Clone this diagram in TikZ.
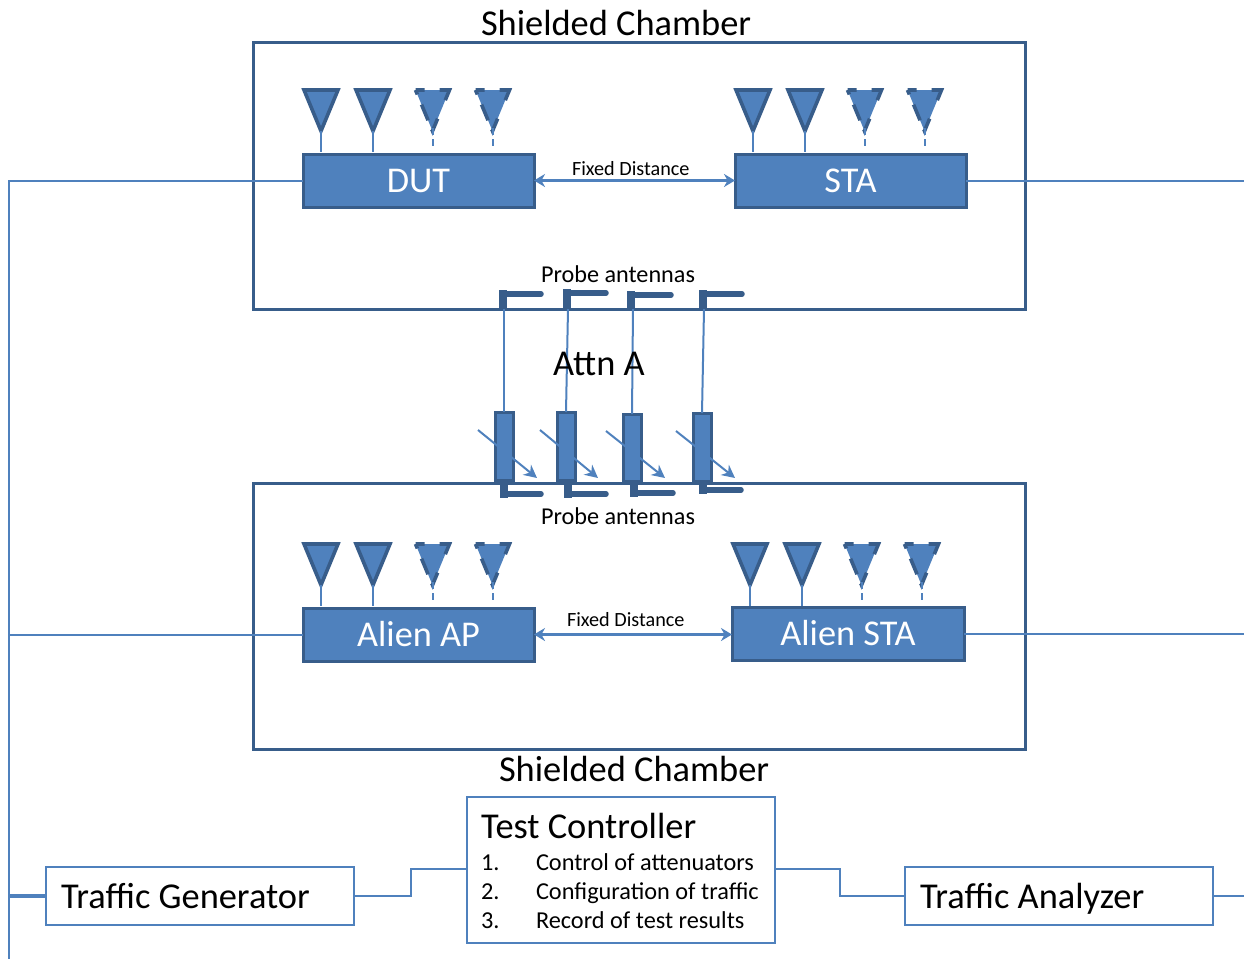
\documentclass[tikz,border=0pt]{standalone}
\usepackage{fontspec}
\setmainfont{Carlito}
\definecolor{fillblue}{HTML}{4F81BD}
\definecolor{darkblue}{HTML}{385D8A}
\usetikzlibrary{arrows.meta}
\tikzset{
  x=1pt,y=-1pt,
  base/.style={rectangle,inner sep=0pt,outer sep=0pt,anchor=north west},
  chamber/.style={base,draw=darkblue,line width=3pt},
  device/.style={base,draw=darkblue,fill=fillblue,line width=3pt,text=white,font=\fontsize{36.3}{38}\selectfont},
  atten/.style={base,draw=darkblue,fill=fillblue,line width=3pt,minimum width=18pt},
  ctrl/.style={base,draw=fillblue,fill=white,line width=1.8pt},
  wire/.style={draw=fillblue,line width=2pt},
  link/.style={draw=fillblue,line width=3.8pt,{Stealth[length=11pt,width=13pt]}-{Stealth[length=11pt,width=13pt]}},
  diag/.style={draw=fillblue,line width=2pt,-{Stealth[length=13pt,width=13pt]}},
  txt/.style={inner sep=0pt,outer sep=0pt,anchor=base west,text=black},
  bigtxt/.style={txt,font=\fontsize{36.4}{38}\selectfont},
  listtxt/.style={txt,font=\fontsize{24.3}{26}\selectfont},
  ante/.style={draw=darkblue,fill=fillblue,line width=3.6pt,line join=miter},
  probe/.style={draw=darkblue,line width=5.5pt,line cap=round,line join=round},
  heel/.style={draw=darkblue,line width=8pt,line cap=butt},
}
\newcommand{\antS}[2]{% solid antenna: centre x, top y
  \draw[ante] (#1-17,#2) -- (#1+17,#2) -- (#1,#2+41) -- cycle;
  \draw[wire] (#1,#2+41) -- (#1,#2+62);
}
\newcommand{\antD}[2]{% dashed antenna
  \fill[fillblue] (#1-17.5,#2) -- (#1+16.5,#2) -- (#1-0.5,#2+41) -- cycle;
  \draw[draw=darkblue,line width=3.6pt,dash pattern=on 9pt off 15pt on 21pt off 20pt on 15pt off 10pt on 17pt off 11pt on 6pt off 0pt] (#1-17.5,#2) -- (#1+16.5,#2) -- (#1-0.5,#2+41) -- cycle;
  \draw[wire,dash pattern=on 7pt off 4pt] (#1-0.5,#2+38) -- (#1-0.5,#2+58);
}
\newcommand{\probeUp}[3]{% x of heel, y of arm, end x of arm
  \draw[probe] (#1,#2) -- (#3,#2);
  \draw[heel] (#1,#2-4) -- (#1,309);
}
\newcommand{\probeDn}[3]{%
  \draw[probe] (#1,#2) -- (#3,#2);
  \draw[heel] (#1,482) -- (#1,#2+3.5);
}
\begin{document}
\begin{tikzpicture}
\useasboundingbox (0,0) rectangle (1244,959);
% chambers
\node[chamber,minimum width=772.5pt,minimum height=267pt] (chA) at (253,42) {};
\node[chamber,minimum width=772.5pt,minimum height=266pt] (chB) at (253,483) {};
\node[bigtxt] (tA) at (481,35) {Shielded Chamber};
\node[bigtxt] (tB) at (499,781) {Shielded Chamber};
% devices
\node[device,minimum width=231pt,minimum height=53pt] (dut) at (303,154) {DUT};
\node[device,minimum width=231pt,minimum height=53pt] (sta) at (735,154) {STA};
\node[device,minimum width=231pt,minimum height=53pt] (ap) at (303,608) {Alien AP};
\node[device,minimum width=232pt,minimum height=53pt] (asta) at (732,607) {Alien STA};
% antennas
\antS{321}{90}\antS{373}{90}\antD{433}{90}\antD{493}{90}
\antS{753}{90}\antS{805}{90}\antD{865}{90}\antD{925}{90}
\antS{321}{544}\antS{373}{544}\antD{433}{544}\antD{493}{544}
\antS{750}{544}\antS{802}{544}\antD{862}{544}\antD{922}{544}
% links
\draw[link] (dut.east) -- (sta.west);
\draw[link] (ap.east) -- (asta.west |- ap.east);
\node[txt,font=\fontsize{20.2}{22}\selectfont] (fd1) at (572,175) {Fixed Distance};
\node[txt,font=\fontsize{20.2}{22}\selectfont] (fd2) at (567,626) {Fixed Distance};
% probes
\node[txt,font=\fontsize{24.2}{26}\selectfont] (pa1) at (541,282.5) {Probe antennas};
\node[txt,font=\fontsize{24.2}{26}\selectfont] (pa2) at (541,524.5) {Probe antennas};
\probeUp{503}{294}{541}
\probeUp{567}{293}{606}
\probeUp{631}{295}{671}
\probeUp{703}{294}{742}
\probeDn{504}{494}{541}
\probeDn{568}{494}{606}
\probeDn{634}{493}{673}
\probeDn{703}{490}{741}
\coordinate (p1) at (504,309);
\coordinate (p2) at (568,309);
\coordinate (p3) at (633,309);
\coordinate (p4) at (704,309);
% attenuators
\node[atten,minimum height=68pt] (a1) at (495,412) {};
\node[atten,minimum height=68pt] (a2) at (557,412) {};
\node[atten,minimum height=67pt] (a3) at (623,414) {};
\node[atten,minimum height=68pt] (a4) at (693,413) {};
\draw[wire] (p1) -- (a1.north);
\draw[wire] (p2) -- (a2.north);
\draw[wire] (p3) -- (a3.north);
\draw[wire] (p4) -- (a4.north);
\coordinate (d1s) at (478,430); \coordinate (d1e) at (537,478);
\coordinate (d2s) at (540,430); \coordinate (d2e) at (598,478);
\coordinate (d3s) at (606,431); \coordinate (d3e) at (665,478);
\coordinate (d4s) at (676,431); \coordinate (d4e) at (735,478);
\draw[diag] (d1s) -- (d1e);
\draw[diag] (d2s) -- (d2e);
\draw[diag] (d3s) -- (d3e);
\draw[diag] (d4s) -- (d4e);
\node[bigtxt] (attn) at (553,375) {Attn A};
% controllers
\node[ctrl,minimum width=308pt,minimum height=146pt] (tc) at (467,797) {};
\node[ctrl,minimum width=308pt,minimum height=58pt] (tg) at (46,867) {};
\node[ctrl,minimum width=308pt,minimum height=58pt] (ta) at (905,867) {};
\node[bigtxt] (tct) at (481,838) {Test Controller};
\node[bigtxt] (tgt) at (61,908) {Traffic Generator};
\node[bigtxt] (tat) at (920,908) {Traffic Analyzer};
\node[listtxt] (n1) at (481,870) {1.};
\node[listtxt] (n2) at (481,899) {2.};
\node[listtxt] (n3) at (481,928) {3.};
\node[listtxt] (l1) at (536,870) {Control of attenuators};
\node[listtxt] (l2) at (536,899) {Configuration of traffic};
\node[listtxt] (l3) at (536,928) {Record of test results};
% wiring
\coordinate (busB) at (9,959);
\coordinate (rE) at (1244,0);
\coordinate (tgj) at (411,869);
\coordinate (taj) at (840,869);
\draw[wire] (dut.west) -| (busB);
\draw[wire] (ap.west) -- (busB |- ap.west);
\draw[wire,line width=3.4pt] (tg.west) -- (busB |- tg.west);
\draw[wire] (sta.east) -- (rE |- sta.east);
\draw[wire] (asta.east) -- (rE |- asta.east);
\draw[wire,line width=2.8pt] (ta.east) -- (rE |- ta.east);
\draw[wire] (tg.east) -- (tgj |- tg.east) -- (tgj) -- (tc.west |- tgj);
\draw[wire] (tc.east |- taj) -- (taj) -- (taj |- ta.west) -- (ta.west);
\end{tikzpicture}
\end{document}
